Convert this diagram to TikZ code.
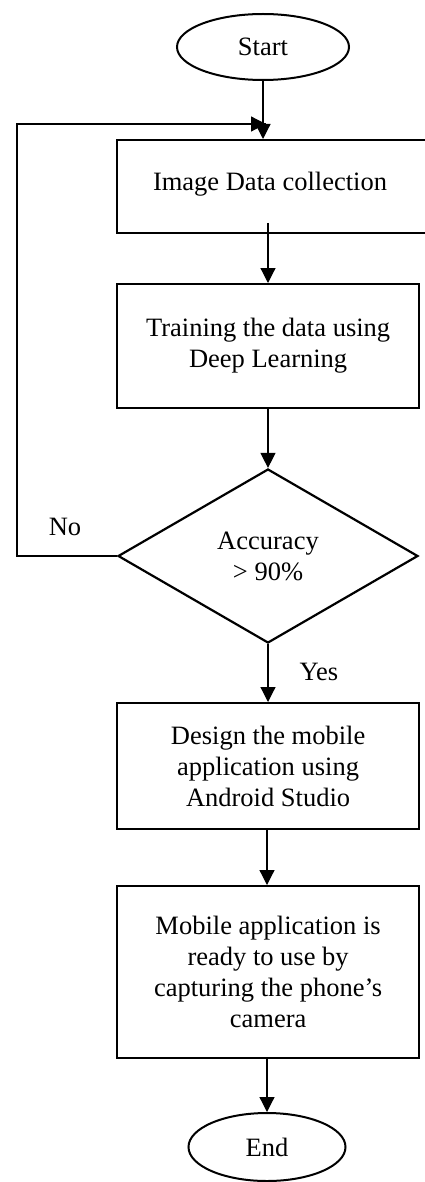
\documentclass[tikz,border=0pt]{standalone}
\usepackage{fontspec}
\setmainfont{Liberation Serif}
\usetikzlibrary{arrows.meta,shapes.geometric}
\begin{document}
\begin{tikzpicture}[x=1pt,y=-1pt,
  every node/.style={font=\fontsize{26.5}{31}\selectfont, align=center, inner sep=0pt},
  procbox/.style={draw, line width=2.2pt, rectangle},
  terminal/.style={draw, line width=2pt, ellipse},
  decision/.style={draw, line width=2.2pt, diamond},
  flow/.style={line width=1.2pt, -{Triangle[length=15pt,width=15pt]}},
  plain/.style={line width=1.2pt}]
\useasboundingbox (0,0) rectangle (425,1182);
\clip (0,0) rectangle (425,1182);

% terminals
\node[terminal, minimum width=172pt, minimum height=66pt] (start) at (263,47) {Start};
\node[terminal, minimum width=157pt, minimum height=68pt] (end) at (267,1147) {End};

% process steps
\node[procbox, minimum width=320pt, minimum height=93pt, anchor=north west] (collect) at (116,139) {};
\node at (270,184) {Image Data collection};
\node[procbox, minimum width=302pt, minimum height=124pt, anchor=north west] (train) at (116,283)
  {Training the data using\\Deep Learning};
\node[decision, minimum width=300pt, minimum height=174pt, aspect=1.72] (acc) at (268,556)
  {Accuracy\\> 90\%};
\node[procbox, minimum width=302pt, minimum height=126pt, anchor=north west] (design) at (116,702)
  {Design the mobile\\application using\\Android Studio};
\node[procbox, minimum width=302pt, minimum height=172pt, anchor=north west] (ready) at (116,885)
  {Mobile application is\\ready to use by\\capturing the phone’s\\camera};

% loop-back corners
\coordinate (loopA) at (17,556);
\coordinate (loopB) at (17,124);
\coordinate (loopC) at (266,124);

% connectors
\draw[flow] (start.south) -- (start.south |- collect.north);
\draw[flow] (268,223) -- (268,283);
\draw[flow] (train.south -| 268,0) -- (acc.north);
\draw[flow] (acc.south) -- (acc.south |- design.north);
\draw[flow] (design.south -| 267,0) -- (267,885);
\draw[flow] (ready.south -| 267,0) -- (end.north);
\draw[plain] (acc.west) -- (loopA) -- (loopB) -- (loopC);
\draw[flow] (loopB) -- (loopC);

% branch labels
\node at (65,527) {No};
\node at (319,672) {Yes};
\end{tikzpicture}
\end{document}
